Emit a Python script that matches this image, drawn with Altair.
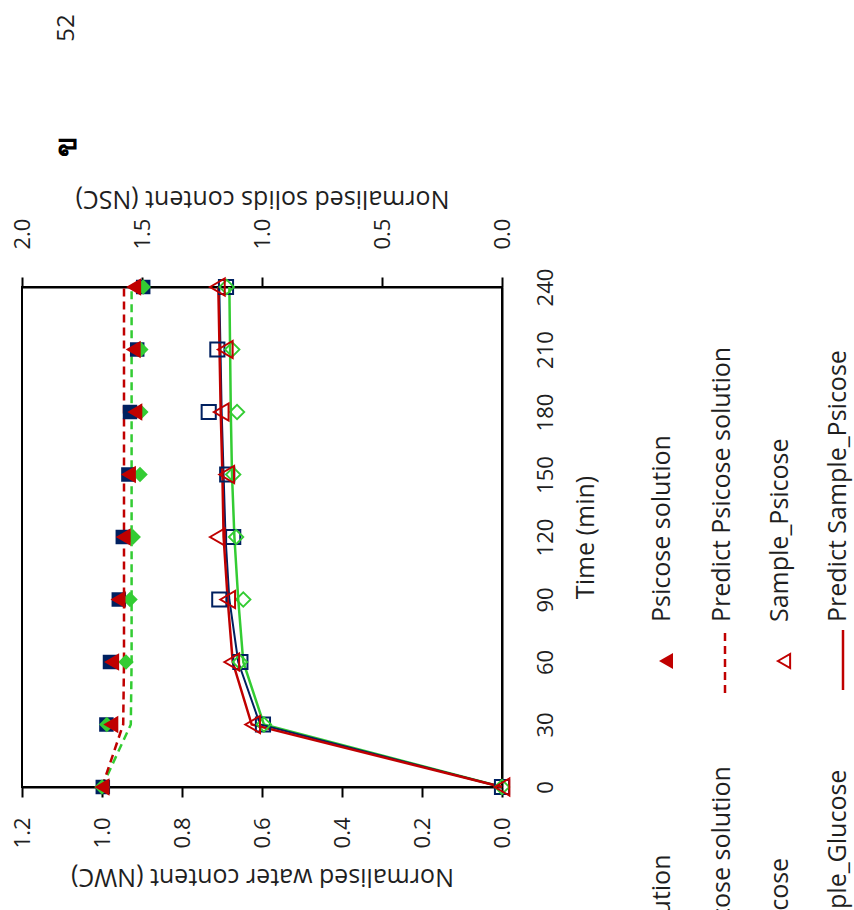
import altair as alt
import pandas as pd

# ---------------- data ----------------
time = [0, 30, 60, 90, 120, 150, 180, 210, 240]

# Normalised water content of the solutions (filled markers)
nwc_psicose = [1.000, 0.978, 0.976, 0.960, 0.947, 0.934, 0.918, 0.922, 0.921]
nwc_glucose = [1.000, 0.988, 0.940, 0.930, 0.922, 0.905, 0.903, 0.903, 0.897]
nwc_series3 = [0.998, 0.989, 0.980, 0.958, 0.948, 0.934, 0.930, 0.912, 0.897]

# Predicted NWC of the solutions (dashed lines)
pred_nwc_psicose = [1.000, 0.947, 0.945, 0.945, 0.945, 0.945, 0.945, 0.945, 0.945]
pred_nwc_glucose = [1.000, 0.928, 0.926, 0.926, 0.926, 0.926, 0.926, 0.926, 0.926]

# Normalised solids content of the samples (hollow markers)
nsc_psicose = [0.0, 1.039, 1.126, 1.143, 1.186, 1.147, 1.170, 1.153, 1.186]
nsc_glucose = [0.0, 0.992, 1.092, 1.078, 1.108, 1.120, 1.104, 1.124, 1.147]
nsc_series3 = [0.0, 0.996, 1.090, 1.178, 1.120, 1.145, 1.222, 1.186, 1.150]

# Predicted NSC of the samples (solid lines)
pred_nsc_psicose = [0.0, 1.043, 1.122, 1.143, 1.160, 1.165, 1.172, 1.177, 1.182]
pred_nsc_series3 = [0.0, 1.008, 1.099, 1.136, 1.152, 1.160, 1.168, 1.173, 1.178]
pred_nsc_glucose = [0.0, 0.992, 1.078, 1.099, 1.115, 1.125, 1.130, 1.133, 1.136]

nwc_ticks = [0.0, 0.2, 0.4, 0.6, 0.8, 1.0, 1.2]
nsc_ticks = [0.0, 0.5, 1.0, 1.5, 2.0]
time_ticks = [0, 30, 60, 90, 120, 150, 180, 210, 240]

legend_psicose = ["Psicose solution", "Predict Psicose solution",
                  "Sample_Psicose", "Predict Sample_Psicose"]
legend_glucose = ["Glucose solution", "Predict Glucose solution",
                  "Sample_Glucose", "Predict Sample_Glucose"]

page_number = "52"
panel_label = "ข"

# ---------------- styles ----------------
RED = "#C00000"
GREEN = "#33CC33"
NAVY = "#002060"
FONT = "Open Sans"
TXT = "#1f1f1f"

W, H = 480, 500

nwc_df = pd.DataFrame({
    "time": time,
    "psicose": nwc_psicose, "glucose": nwc_glucose, "series3": nwc_series3,
    "pred_psicose": pred_nwc_psicose, "pred_glucose": pred_nwc_glucose,
})
nsc_df = pd.DataFrame({
    "time": time,
    "psicose": nsc_psicose, "glucose": nsc_glucose, "series3": nsc_series3,
    "pred_psicose": pred_nsc_psicose, "pred_glucose": pred_nsc_glucose,
    "pred_series3": pred_nsc_series3,
})

common_axis = dict(
    labelFont=FONT, labelColor=TXT, titleFont=FONT, titleColor=TXT,
    titleFontWeight="normal", grid=False, domainColor="black", domainWidth=2,
    labelFlush=False, labelOverlap=False, labelBound=False,
)

nwc_axis = alt.Axis(
    orient="bottom", values=nwc_ticks, format=".1f",
    labelAngle=270, labelAlign="right", labelBaseline="middle",
    labelPadding=20, labelFontSize=22,
    tickSize=10, tickWidth=2, tickColor="black",
    title="Normalised water content (NWC)", titleAngle=180,
    titleAlign="center", titleBaseline="middle", titleX=W / 2, titleY=89,
    titleFontSize=25, **common_axis,
)
nsc_axis = alt.Axis(
    orient="top", values=nsc_ticks, format=".1f",
    labelAngle=270, labelAlign="left", labelBaseline="middle",
    labelPadding=28, labelFontSize=22,
    tickSize=10, tickWidth=2, tickColor="black",
    title="Normalised solids content (NSC)", titleAngle=180,
    titleAlign="center", titleBaseline="middle", titleX=W / 2, titleY=-89,
    titleFontSize=25, **common_axis,
)
time_axis = alt.Axis(
    orient="right", values=time_ticks, format="d",
    labelAngle=270, labelAlign="center", labelBaseline="middle",
    labelPadding=43, labelFontSize=22, ticks=False, tickSize=0,
    title="Time (min)", titleAngle=270, titleAlign="center",
    titleBaseline="middle", titleX=83, titleY=H / 2,
    titleFontSize=25, **common_axis,
)

y_enc = alt.Y("time:Q", scale=alt.Scale(domain=[0, 240], nice=False, zero=False),
              axis=time_axis)


def xn(field):
    return alt.X(f"{field}:Q", scale=alt.Scale(domain=[0, 1.2], reverse=True, nice=False),
                 axis=nwc_axis)


def xs(field):
    return alt.X(f"{field}:Q", scale=alt.Scale(domain=[0, 2.0], reverse=True, nice=False),
                 axis=nsc_axis)


base_nwc = alt.Chart(nwc_df)
base_nsc = alt.Chart(nsc_df)

nwc_group = alt.layer(
    base_nwc.mark_line(color=GREEN, strokeWidth=2.5, strokeDash=[8, 5]).encode(
        x=xn("pred_glucose"), y=y_enc, order="time:Q"),
    base_nwc.mark_line(color=RED, strokeWidth=2.5, strokeDash=[8, 5]).encode(
        x=xn("pred_psicose"), y=y_enc, order="time:Q"),
    base_nwc.mark_point(shape="square", filled=True, size=210, color=NAVY, opacity=1).encode(
        x=xn("series3"), y=y_enc),
    base_nwc.mark_point(shape="diamond", filled=True, size=240, color=GREEN, opacity=1).encode(
        x=xn("glucose"), y=y_enc),
    base_nwc.mark_point(shape="triangle-left", filled=True, size=300, color=RED, opacity=1).encode(
        x=xn("psicose"), y=y_enc),
)

nsc_group = alt.layer(
    base_nsc.mark_line(color=GREEN, strokeWidth=2.5).encode(
        x=xs("pred_glucose"), y=y_enc, order="time:Q"),
    base_nsc.mark_line(color=NAVY, strokeWidth=2).encode(
        x=xs("pred_series3"), y=y_enc, order="time:Q"),
    base_nsc.mark_line(color=RED, strokeWidth=2.5).encode(
        x=xs("pred_psicose"), y=y_enc, order="time:Q"),
    base_nsc.mark_point(shape="square", filled=False, size=200, color=NAVY,
                        strokeWidth=2, opacity=1).encode(x=xs("series3"), y=y_enc),
    base_nsc.mark_point(shape="diamond", filled=False, size=210, color=GREEN,
                        strokeWidth=1.8, opacity=1).encode(x=xs("glucose"), y=y_enc),
    base_nsc.mark_point(shape="triangle-left", filled=False, size=290, color=RED,
                        strokeWidth=2, opacity=1).encode(x=xs("psicose"), y=y_enc),
)

# ---------------- hand-made rotated legend ----------------
ROW_TEXT_X = [640, 700, 758, 816]   # across the rotated page
ROW_SYM_X = [644, 703, 762, 821]
TEXT_Y = 335
SYM_Y = 374
COL_SHIFT = 426

legend_layers = []
columns = [
    (legend_psicose, RED, "triangle-left", 0),
    (legend_glucose, GREEN, "diamond", COL_SHIFT),
]
for labels, col, shape, shift in columns:
    for i, lab in enumerate(labels):
        legend_layers.append(
            alt.Chart(pd.DataFrame({"label": [lab]})).mark_text(
                angle=270, align="left", baseline="middle", fontSize=25,
                font=FONT, color=TXT,
            ).encode(x=alt.value(ROW_TEXT_X[i]), y=alt.value(TEXT_Y + shift), text="label:N")
        )
    one = pd.DataFrame({"k": [0]})
    legend_layers.append(
        alt.Chart(one).mark_point(shape=shape, filled=True, size=260, color=col, opacity=1)
        .encode(x=alt.value(ROW_SYM_X[0]), y=alt.value(SYM_Y + shift)))
    legend_layers.append(
        alt.Chart(one).mark_rule(color=col, strokeWidth=2.5, strokeDash=[8, 5])
        .encode(x=alt.value(ROW_SYM_X[1]), y=alt.value(SYM_Y - 28 + shift),
                y2=alt.value(SYM_Y + 32 + shift)))
    legend_layers.append(
        alt.Chart(one).mark_point(shape=shape, filled=False, size=200, color=col,
                                  strokeWidth=2, opacity=1)
        .encode(x=alt.value(ROW_SYM_X[2]), y=alt.value(SYM_Y + shift)))
    legend_layers.append(
        alt.Chart(one).mark_rule(color=col, strokeWidth=2.5)
        .encode(x=alt.value(ROW_SYM_X[3]), y=alt.value(SYM_Y - 31 + shift),
                y2=alt.value(SYM_Y + 29 + shift)))

page_layers = [
    alt.Chart(pd.DataFrame({"t": [page_number]})).mark_text(
        angle=270, align="center", baseline="middle", fontSize=24, font=FONT, color=TXT,
    ).encode(x=alt.value(45), y=alt.value(-259), text="t:N"),
    alt.Chart(pd.DataFrame({"t": [panel_label]})).mark_text(
        angle=270, align="center", baseline="middle", fontSize=30, fontWeight="bold",
        color="black",
    ).encode(x=alt.value(45), y=alt.value(-141), text="t:N"),
]

chart = alt.layer(
    nwc_group, nsc_group, *legend_layers, *page_layers
).resolve_scale(
    x="independent"
).properties(
    width=W, height=H,
    padding={"left": 22, "top": 287, "right": 854 - 22 - W, "bottom": 910 - 287 - H},
    autosize=alt.AutoSizeParams(type="none"),
    background="white",
).configure_view(
    stroke="black", strokeWidth=2
)

chart.save("out.html", embed_options={"renderer": "svg", "actions": False})
